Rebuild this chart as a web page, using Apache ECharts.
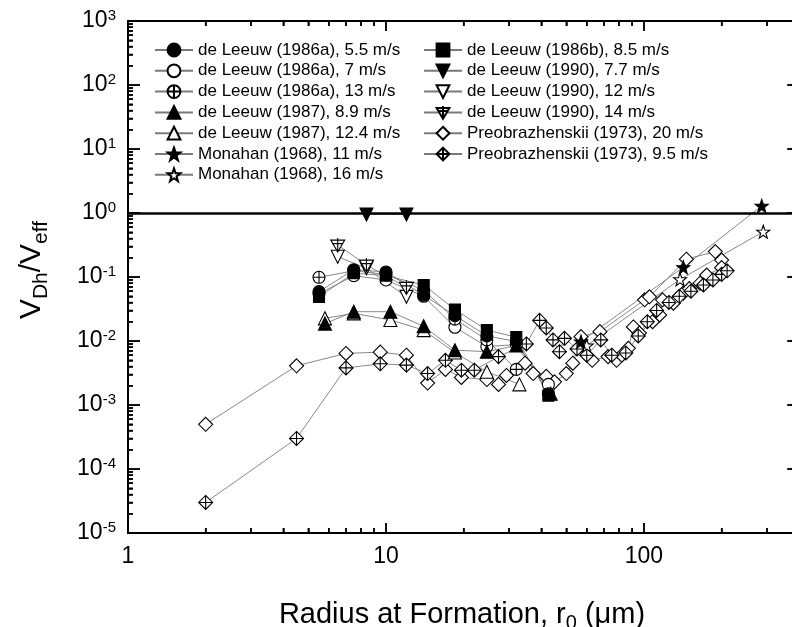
<!DOCTYPE html>
<html><head><meta charset="utf-8">
<script src="https://cdn.jsdelivr.net/npm/echarts@6/dist/echarts.min.js"></script>
<style>html,body{margin:0;padding:0;background:#fff}#c{width:792px;height:627px}</style>
</head><body><div id="c"></div>
<script>
// ---------- axis ticks ----------
const xMajorTicks = [1, 10, 100];
const minorMult = [2, 3, 4, 5, 6, 7, 8, 9];
const yMajorTicks = [1e-5, 1e-4, 1e-3, 1e-2, 1e-1, 1, 10, 100, 1000];
const xLabels = ['1', '10', '100'];

// ---------- data: [radius um, VDh/Veff] ----------
const dL86a_55 = [[5.5,0.059],[7.5,0.13],[10,0.12],[14,0.052],[18.5,0.025],[24.6,0.012],[32,0.0098],[42.6,0.0015]];
const dL86a_7  = [[5.5,0.055],[7.5,0.105],[10,0.09],[14,0.05],[18.5,0.0164],[24.6,0.0082],[32,0.0088],[42.6,0.0021]];
const dL86a_13 = [[5.5,0.099],[7.5,0.125],[10,0.11],[14,0.062],[18.5,0.022],[24.6,0.0104],[32,0.0036]];
const dL87_89  = [[5.8,0.0187],[7.5,0.0287],[10.4,0.0287],[14,0.017],[18.5,0.0072],[24.6,0.0068],[32,0.0085],[43.5,0.0015]];
const dL87_124 = [[5.8,0.0226],[7.5,0.027],[10.4,0.0213],[14,0.0148],[18.5,0.0066],[24.6,0.0033],[32.9,0.0021]];
const mon_11   = [[57,0.0098],[142,0.142],[286,1.29]];
const mon_16   = [[60,0.0085],[138,0.092],[290,0.51]];
const dL86b_85 = [[5.5,0.049],[7.5,0.115],[10,0.105],[14,0.075],[18.5,0.031],[24.6,0.0148],[32,0.0115],[42.6,0.0014]];
const dL90_77  = [[8.4,0.95],[12,0.95]];
const dL90_12  = [[6.5,0.207],[8.4,0.137],[12,0.049]];
const dL90_14  = [[6.5,0.316],[8.4,0.154],[12,0.069]];
const pre_20   = [[2,5.0e-4],[4.5,0.0041],[7,0.0064],[9.5,0.0067],[12,0.006],[14.5,0.0022],[17,0.0036],[19.6,0.0027],
                  [24.6,0.0025],[27.3,0.0021],[29.3,0.0029],[34.6,0.0045],[37.2,0.0031],[41.8,0.0028],[45,0.0023],[50,0.0031],
                  [53,0.0045],[57,0.0117],[67.5,0.014],[100.6,0.044],[105,0.049],[146,0.19],[189,0.25],[200,0.184],
                  '-',
                  [63,0.005],[72.6,0.0057],[78.3,0.005],[82,0.006],[87,0.0077],[91,0.0166],[96,0.0133],[108,0.02],
                  [115,0.0255],[118,0.044],[130,0.039],[142,0.056],[150,0.066],[165,0.08],[175,0.107],[200,0.14]];
const pre_95   = [[2,3.0e-5],[4.5,3.0e-4],[7,0.0038],[9.5,0.0044],[12,0.0042],[14.5,0.0031],[17,0.005],[19.6,0.0035],
                  [22,0.0035],[27.3,0.0057],[35,0.009],[39.4,0.021],[41.8,0.016],[44.4,0.0104],[47,0.0068],[49.2,0.011],
                  [55,0.0075],[60,0.006],[68,0.0104],[75,0.006],[85,0.0065],[95,0.012],[103,0.02],[112,0.03],[125,0.04],
                  [137,0.05],[152,0.06],[170,0.075],[185,0.09],[200,0.11],[210,0.125]];

// ---------- symbols ----------
const SYM_CPLUS = 'path://M0,10A10,10,0,1,1,20,10A10,10,0,1,1,0,10ZM10,0L10,20M0,10L20,10';
const SYM_STAR = 'path://M10,0L12.35,6.76L19.51,6.91L13.8,11.24L15.88,18.09L10,14L4.12,18.09L6.2,11.24L0.49,6.91L7.65,6.76Z';
const SYM_DTPLUS = 'path://M0,3L20,3L10,20ZM10,0L10,20M2,8L18,8';
const SYM_DPLUS = 'path://M10,0L20,10L10,20L0,10ZM10,0L10,20M0,10L20,10';

const FONT = 'Liberation Sans, Arial, Helvetica, sans-serif';
const BLACK = '#000', WHITE = '#fff';
const XMIN = 1, XMAX = 400, YMIN = 1e-5, YMAX = 1e3;
const MAJ = 10, MIN = 5, TICKW = 1.5;

function mk(name, data, symbol, filled, size, rotate) {
  return {
    name, type: 'line', data, symbol, symbolSize: size || 12, symbolRotate: rotate || 0,
    xAxisIndex: 0, yAxisIndex: 0, connectNulls: false,
    lineStyle: { color: '#7a7a7a', width: 0.9 },
    itemStyle: { color: filled ? BLACK : WHITE, borderColor: BLACK, borderWidth: 1.1 },
    emphasis: { disabled: true }, animation: false
  };
}

const series = [
  mk('Preobrazhenskii (1973), 20 m/s', pre_20, 'diamond', false, 14),
  mk('Preobrazhenskii (1973), 9.5 m/s', pre_95, SYM_DPLUS, false, 14),
  mk('de Leeuw (1987), 12.4 m/s', dL87_124, 'triangle', false, 13),
  mk('de Leeuw (1986a), 7 m/s', dL86a_7, 'circle', false, 12),
  mk('de Leeuw (1986a), 13 m/s', dL86a_13, SYM_CPLUS, false, 12),
  mk('de Leeuw (1990), 12 m/s', dL90_12, 'triangle', false, 13, 180),
  mk('de Leeuw (1990), 14 m/s', dL90_14, SYM_DTPLUS, false, 14),
  mk('Monahan (1968), 16 m/s', mon_16, SYM_STAR, false, 13),
  mk('de Leeuw (1986b), 8.5 m/s', dL86b_85, 'rect', true, 11),
  mk('de Leeuw (1986a), 5.5 m/s', dL86a_55, 'circle', true, 12),
  mk('de Leeuw (1987), 8.9 m/s', dL87_89, 'triangle', true, 13),
  mk('de Leeuw (1990), 7.7 m/s', dL90_77, 'triangle', true, 13, 180),
  mk('Monahan (1968), 11 m/s', mon_11, SYM_STAR, true, 13)
];
series[0].markLine = {
  silent: true, symbol: ['none', 'none'], label: { show: false },
  lineStyle: { color: BLACK, width: 2.5, type: 'solid' },
  data: [{ yAxis: 1 }], animation: false
};

function minorOf(majors, limit) {
  const out = [];
  majors.forEach(d => minorMult.forEach(m => { const v = m * d; if (v < limit) out.push(v); }));
  return out;
}
const xMinorTicks = minorOf(xMajorTicks, XMAX);
const yMinorTicks = minorOf(yMajorTicks.slice(0, -1), YMAX);
const xTickList = xMajorTicks.map(v => [v, 1]).concat(xMinorTicks.map(v => [v, 0]));
const yTickList = yMajorTicks.map(v => [v, 1]).concat(yMinorTicks.map(v => [v, 0]));

function xAx(position, ticks, len, labels) {
  return {
    type: 'log', logBase: 10, min: XMIN, max: XMAX, position,
    axisLine: { show: true, onZero: false, lineStyle: { color: BLACK, width: 2 } },
    axisTick: ticks ? { show: true, inside: true, length: len, customValues: ticks, lineStyle: { color: BLACK, width: TICKW } } : { show: false },
    axisLabel: labels ? {
      show: true, customValues: xMajorTicks, margin: 12, color: BLACK, fontSize: 23, fontFamily: FONT,
      formatter: v => xLabels[xMajorTicks.findIndex(t => Math.abs(t - v) < 1e-9 * t)] || ''
    } : { show: false },
    splitLine: { show: false }, minorTick: { show: false }
  };
}
function yAx(position, ticks, len, labels) {
  return {
    type: 'log', logBase: 10, min: YMIN, max: YMAX, position,
    axisLine: { show: true, onZero: false, lineStyle: { color: BLACK, width: 2 } },
    axisTick: ticks ? { show: true, inside: true, length: len, customValues: ticks, lineStyle: { color: BLACK, width: TICKW } } : { show: false },
    axisLabel: labels ? {
      show: true, customValues: yMajorTicks, margin: 12, color: BLACK, fontFamily: FONT,
      formatter: v => '{b|10}{s|' + Math.round(Math.log10(v)) + '}',
      rich: { b: { fontSize: 23, fontFamily: FONT, color: BLACK }, s: { fontSize: 15, fontFamily: FONT, color: BLACK, padding: [0, 0, 10, 0] } }
    } : { show: false },
    splitLine: { show: false }, minorTick: { show: false }
  };
}

const legendLeft = ['de Leeuw (1986a), 5.5 m/s','de Leeuw (1986a), 7 m/s','de Leeuw (1986a), 13 m/s',
  'de Leeuw (1987), 8.9 m/s','de Leeuw (1987), 12.4 m/s','Monahan (1968), 11 m/s','Monahan (1968), 16 m/s'];
const legendRight = ['de Leeuw (1986b), 8.5 m/s','de Leeuw (1990), 7.7 m/s','de Leeuw (1990), 12 m/s',
  'de Leeuw (1990), 14 m/s','Preobrazhenskii (1973), 20 m/s','Preobrazhenskii (1973), 9.5 m/s'];

const legendCommon = {
  orient: 'vertical', padding: 0, itemGap: 0, itemWidth: 38, itemHeight: 16,
  selectedMode: false, inactiveColor: BLACK,
  textStyle: { fontSize: 17, fontFamily: FONT, color: BLACK, lineHeight: 20.8 }
};

const option = {
  animation: false,
  backgroundColor: WHITE,
  grid: { left: 128, top: 21, width: 671.3, height: 512, outerBoundsMode: 'none',
          show: true, borderColor: BLACK, borderWidth: 2 },
  xAxis: [
    xAx('bottom', null, 0, true),
    xAx('bottom', xMajorTicks, MAJ, false),
    xAx('bottom', xMinorTicks, MIN, false),
    xAx('top', xMajorTicks, MAJ, false),
    xAx('top', xMinorTicks, MIN, false)
  ],
  yAxis: [
    yAx('left', null, 0, true),
    yAx('left', yMajorTicks, MAJ + 2, false),
    yAx('left', yMinorTicks, MIN, false),
    yAx('right', yMajorTicks, MAJ + 2, false),
    yAx('right', yMinorTicks, MIN, false)
  ],
  legend: [
    Object.assign({}, legendCommon, { left: 154, top: 39.6, data: legendLeft }),
    Object.assign({}, legendCommon, { left: 423, top: 39.6, data: legendRight })
  ],
  graphic: [
    { type: 'text', x: 462, y: 615, style: {
        text: '{a|Radius at Formation, r}{u|0}{a| (μm)}', align: 'center', verticalAlign: 'middle',
        rich: { a: { fontSize: 29, fontFamily: FONT, fill: BLACK, color: BLACK },
                u: { fontSize: 20, fontFamily: FONT, fill: BLACK, color: BLACK, padding: [16, 0, 0, 0] } } } },
    { type: 'text', x: 32, y: 270, rotation: Math.PI / 2, style: {
        text: '{a|V}{u|Dh}{a|/V}{u|eff}', align: 'center', verticalAlign: 'middle',
        rich: { a: { fontSize: 30, fontFamily: FONT, fill: BLACK, color: BLACK },
                u: { fontSize: 21, fontFamily: FONT, fill: BLACK, color: BLACK, padding: [18, 0, 0, 0] } } } }
  ],
  series
};

const chart = echarts.init(document.getElementById('c'), null, { renderer: 'canvas' });
chart.setOption(option);

// Tick marks as short line segments placed through the chart's own scales
const toPx = d => chart.convertToPixel({ xAxisIndex: 0, yAxisIndex: 0 }, d);
const toData = p => chart.convertFromPixel({ xAxisIndex: 0, yAxisIndex: 0 }, p);
const tickSegs = [];
xTickList.forEach(([v, major]) => {
  const len = major ? MAJ : MIN;
  const b = toPx([v, YMIN]), t = toPx([v, YMAX]);
  tickSegs.push([v, YMIN], [v, toData([b[0], b[1] - len])[1]], '-');
  tickSegs.push([v, YMAX], [v, toData([t[0], t[1] + len])[1]], '-');
});
yTickList.forEach(([v, major]) => {
  const len = major ? MAJ + 2 : MIN;
  const l = toPx([XMIN, v]), r = toPx([XMAX, v]);
  tickSegs.push([XMIN, v], [toData([l[0] + len, l[1]])[0], v], '-');
  tickSegs.push([XMAX, v], [toData([r[0] - len, r[1]])[0], v], '-');
});
chart.setOption({
  series: series.concat([{
    type: 'line', name: '_ticks', data: tickSegs, symbol: 'none', connectNulls: false, silent: true,
    xAxisIndex: 0, yAxisIndex: 0, z: 1, clip: false, animation: false,
    lineStyle: { color: BLACK, width: TICKW }, emphasis: { disabled: true }
  }])
});
</script></body></html>
